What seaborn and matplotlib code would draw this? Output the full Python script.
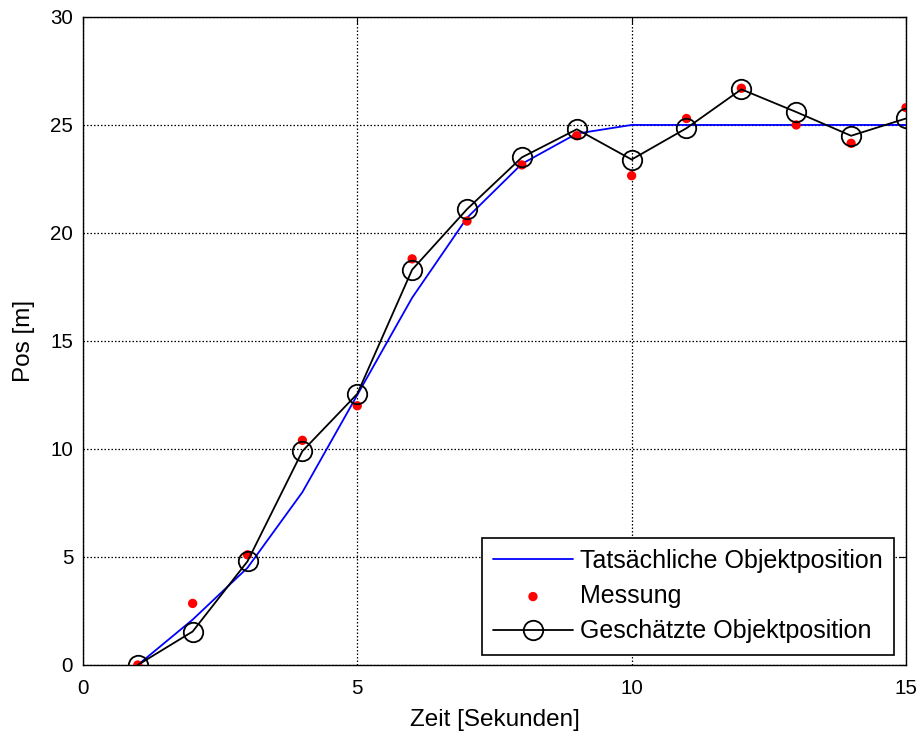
import numpy as np
import pandas as pd
import matplotlib
matplotlib.use('Agg')
import matplotlib.pyplot as plt
import seaborn as sns

# Daten
zeit = [1, 2, 3, 4, 5, 6, 7, 8, 9, 10, 11, 12, 13, 14, 15]
wahr = [0, 2.1, 4.5, 8.0, 12.5, 17.0, 20.7, 23.2, 24.6, 25.0, 25.0, 25.0, 25.0, 25.0, 25.0]
messung = [0, 2.85, 5.1, 10.4, 12.0, 18.8, 20.55, 23.15, 24.5, 22.65, 25.3, 26.7, 25.0, 24.15, 25.8]
schaetzung = [0, 1.55, 4.8, 9.9, 12.55, 18.3, 21.1, 23.5, 24.8, 23.4, 24.85, 26.65, 25.6, 24.5, 25.3]

df = pd.DataFrame({'zeit': zeit, 'wahr': wahr, 'messung': messung, 'schaetzung': schaetzung})

sns.set_style('white', rc={'text.color': 'black', 'axes.labelcolor': 'black',
                           'xtick.color': 'black', 'ytick.color': 'black'})
plt.rcParams['font.family'] = ['Liberation Sans', 'DejaVu Sans']
plt.rcParams['xtick.direction'] = 'in'
plt.rcParams['ytick.direction'] = 'in'

fig = plt.figure(figsize=(9.21, 7.37), dpi=100)
ax = fig.add_axes([0.090, 0.0977, 0.8937, 0.8793])

sns.lineplot(data=df, x='zeit', y='wahr', ax=ax, color='#0000ff', linewidth=1.3,
             label='Tatsächliche Objektposition')
sns.scatterplot(data=df, x='zeit', y='messung', ax=ax, color='#ff0000', s=45,
                edgecolor='none', label='Messung', zorder=3)
sns.lineplot(data=df, x='zeit', y='schaetzung', ax=ax, color='black', linewidth=1.3,
             marker='o', markersize=14, markerfacecolor='none', markeredgecolor='black',
             markeredgewidth=1.3, label='Geschätzte Objektposition', zorder=4)

ax.set_xlim(0, 15)
ax.set_ylim(0, 30)
ax.set_xticks([0, 5, 10, 15])
ax.set_yticks([0, 5, 10, 15, 20, 25, 30])
ax.grid(True, color='black', linestyle=(0, (1.2, 1.6)), linewidth=0.9)
ax.tick_params(labelsize=14.8, length=5, top=True, right=True, width=0.8)
ax.tick_params(axis='x', pad=10)
ax.tick_params(axis='y', pad=7)
for s in ax.spines.values():
    s.set_color('black')
    s.set_linewidth(1.0)

ax.set_xlabel('Zeit [Sekunden]', fontsize=17.5, labelpad=8)
ax.set_ylabel('Pos [m]', fontsize=17.5, labelpad=11)

leg = ax.legend(loc='lower right', fontsize=18, frameon=True, fancybox=False,
                edgecolor='black', framealpha=1, borderpad=0.45, handlelength=3.2,
                handletextpad=0.3, bbox_to_anchor=(0.986, 0.016), labelspacing=0.45,
                borderaxespad=0)
leg.get_frame().set_linewidth(1.2)

fig.savefig('out.png', dpi=100)
